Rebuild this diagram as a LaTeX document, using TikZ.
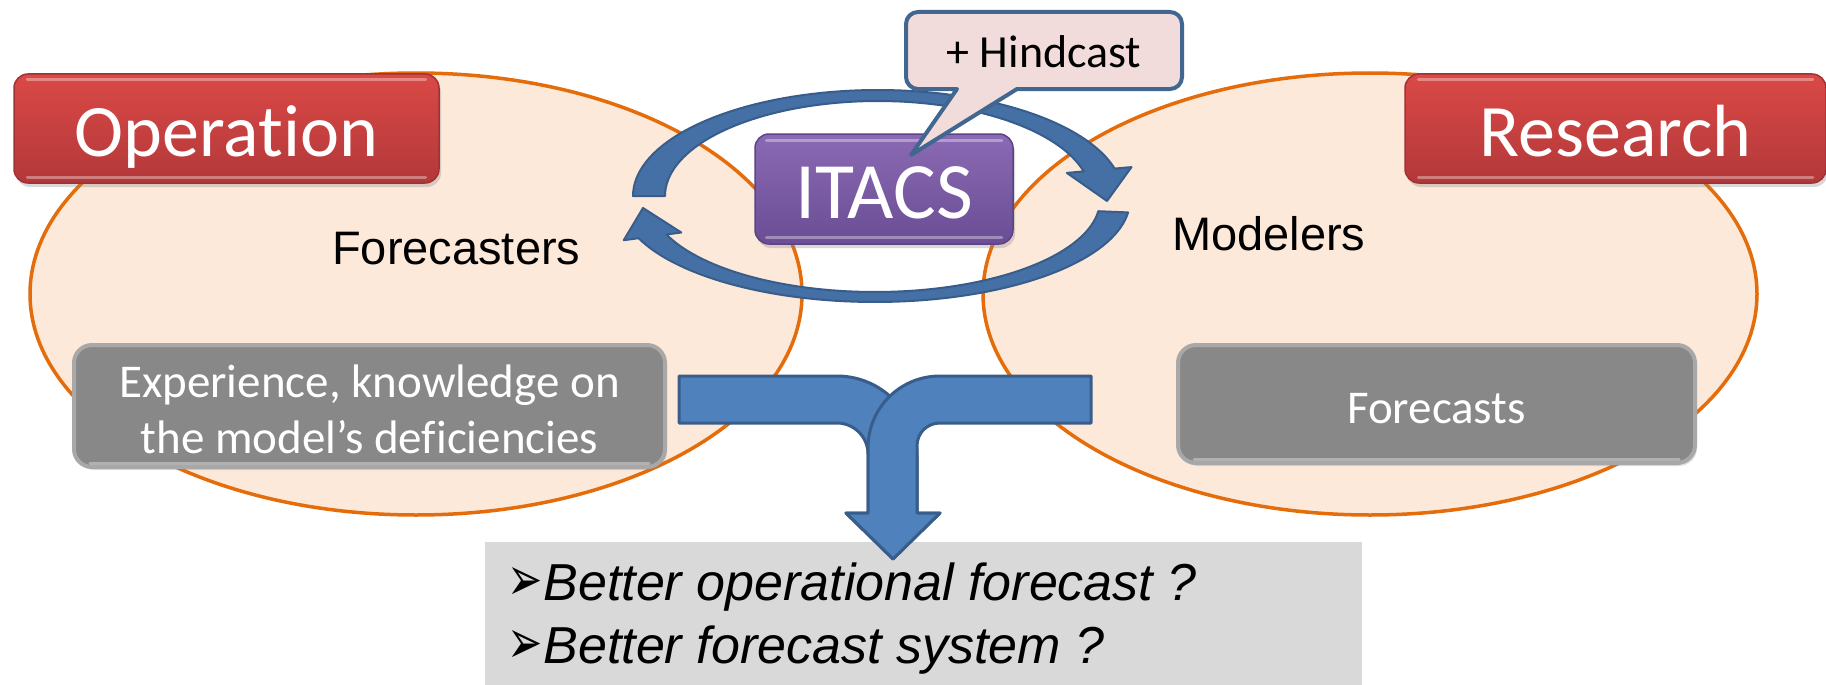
\documentclass[tikz,border=0pt]{standalone}
\usepackage{fontspec}
\usepackage{graphicx}
\setmainfont[Ligatures=NoCommon]{Carlito}
\newfontfamily\arialf{Liberation Sans}
\newfontfamily\dejavuf{DejaVu Sans}
\usetikzlibrary{shadows}
\definecolor{peach}{HTML}{FDE9D9}
\definecolor{orangeline}{HTML}{E46C0A}
\definecolor{redtop}{HTML}{DA4946}
\definecolor{redbot}{HTML}{B3383A}
\definecolor{redborder}{HTML}{A03234}
\definecolor{purtop}{HTML}{8A6AB4}
\definecolor{purbot}{HTML}{6A4D94}
\definecolor{purborder}{HTML}{5C4484}
\definecolor{grayfill}{HTML}{888888}
\definecolor{grayborder}{HTML}{A8A8A8}
\definecolor{tblue}{HTML}{4F81BD}
\definecolor{tbluedark}{HTML}{385D8A}
\definecolor{loopblue}{HTML}{4470A6}
\definecolor{callfill}{HTML}{F2DCDB}
\definecolor{callborder}{HTML}{41668F}
\definecolor{outgray}{HTML}{D9D9D9}
\newcommand{\bulletarrow}{{\dejavuf\upshape\fontsize{62pt}{62pt}\selectfont\scalebox{0.68}[1]{➢}}}
\begin{document}
\begin{tikzpicture}[x=1pt,y=-1pt,
  ellip/.style={fill=peach, draw=orangeline, line width=3.5pt},
  redbox/.style={rounded corners=14pt, draw=redborder, line width=1.5pt,
    top color=redtop, bottom color=redbot, text=white,
    font=\fontsize{74pt}{80pt}\selectfont, minimum width=425pt, minimum height=109pt,
    inner sep=0pt, text height=55pt, text depth=0pt,
    drop shadow={shadow xshift=2pt, shadow yshift=-4pt, opacity=0.3}},
  purbox/.style={rounded corners=14pt, draw=purborder, line width=1.5pt,
    top color=purtop, bottom color=purbot, text=white,
    font=\fontsize{80pt}{86pt}\selectfont, minimum width=258pt, minimum height=110pt,
    inner sep=0pt, text height=58pt, text depth=0pt,
    drop shadow={shadow xshift=2pt, shadow yshift=-4pt, opacity=0.3}},
  graybox/.style={rounded corners=18pt, draw=grayborder, line width=4pt,
    fill=grayfill, text=white, font=\fontsize{47pt}{56pt}\selectfont, inner sep=0pt,
    drop shadow={shadow xshift=2pt, shadow yshift=-3pt, opacity=0.25}},
  gloss/.style={line width=3pt, opacity=0.35, line cap=round},
  loopar/.style={fill=loopblue, draw=tbluedark, line width=2pt, line join=round},
  tarrow/.style={fill=tblue, draw=tbluedark, line width=3pt, line join=round},
  plain/.style={font=\arialf\fontsize{47pt}{56pt}\selectfont, inner sep=0pt},
]
\useasboundingbox (0,0) rectangle (1826,685);
\fill[white] (0,0) rectangle (1826,685);

% the two ellipses
\draw[ellip] (416,294) ellipse [x radius=386pt, y radius=221pt];
\draw[ellip] (1370,294) ellipse [x radius=387pt, y radius=221pt];

% circular arrows around ITACS
\draw[loopar]
  plot[domain=180:345, samples=70] ({878+245*cos(\x)},{196+106*sin(\x)})
  -- (1131.5,167.1) -- (1107,201) -- (1066.8,172.9) -- (1083.7,171.4)
  -- plot[domain=345:180, samples=70] ({878+213*cos(\x)},{196+95*sin(\x)})
  -- cycle;
\draw[loopar]
  plot[domain=7:158, samples=70] ({875+255*cos(\x)},{200+102*sin(\x)})
  -- (623.7,240.2) -- (643,208) -- (681.3,232.5) -- (666.4,234.5)
  -- plot[domain=158:7, samples=70] ({875+225*cos(\x)},{200+92*sin(\x)})
  -- cycle;

% ITACS
\node[purbox] (itacs) at (884,189) {ITACS};
\draw[gloss, white] ([xshift=12pt,yshift=-7pt]itacs.north west) -- ([xshift=-12pt,yshift=-7pt]itacs.north east);
\draw[gloss, white] ([xshift=12pt,yshift=7pt]itacs.south west) -- ([xshift=-12pt,yshift=7pt]itacs.south east);

% callout
\draw[fill=callfill, draw=callborder, line width=4pt, line join=round]
  (957,89) -- (918,89) arc[start angle=270, end angle=180, radius=12pt]
  -- (906,24) arc[start angle=180, end angle=90, radius=12pt]
  -- (1170,12) arc[start angle=90, end angle=0, radius=12pt]
  -- (1182,77) arc[start angle=0, end angle=-90, radius=12pt]
  -- (1017,89) -- (911,155) -- cycle;
\node[font=\fontsize{46pt}{50pt}\selectfont, anchor=base, inner sep=0pt] (hind) at (1044,67) {+ Hindcast};

% red title boxes
\node[redbox] (op) at (226.5,128.5) {Operation};
\draw[gloss, white] ([xshift=14pt,yshift=6pt]op.south west) -- ([xshift=-14pt,yshift=6pt]op.south east);
\draw[gloss, white] ([xshift=14pt,yshift=-6pt]op.north west) -- ([xshift=-14pt,yshift=-6pt]op.north east);
\node[redbox, minimum width=421pt] (res) at (1615.5,128.5) {Research};
\draw[gloss, white] ([xshift=14pt,yshift=6pt]res.south west) -- ([xshift=-14pt,yshift=6pt]res.south east);
\draw[gloss, white] ([xshift=14pt,yshift=-6pt]res.north west) -- ([xshift=-14pt,yshift=-6pt]res.north east);

% plain labels
\node[plain, anchor=base west] (fc) at (332,264) {Forecasters};
\node[plain, anchor=base west] (md) at (1172,250) {Modelers};

% gray boxes
\node[graybox, minimum width=591pt, minimum height=122pt, text height=94pt, text depth=0pt] (exp) at (369.5,406)
  {\vbox{\halign{\hfil#\hfil\cr Experience, knowledge on\cr the model’s deficiencies\cr}}};
\draw[gloss, white] ([xshift=18pt,yshift=6pt]exp.south west) -- ([xshift=-18pt,yshift=6pt]exp.south east);
\node[graybox, minimum width=517pt, minimum height=118pt, text height=38pt, text depth=0pt] (fcs) at (1436.5,404) {Forecasts};
\draw[gloss, white] ([xshift=18pt,yshift=6pt]fcs.south west) -- ([xshift=-18pt,yshift=6pt]fcs.south east);

% bottom box
\node[fill=outgray, minimum width=877pt, minimum height=143pt, inner sep=0pt] (outbox) at (923.5,613.5) {};
\node[anchor=base west, inner sep=0pt, font=\arialf\itshape\fontsize{52pt}{63pt}\selectfont] (outtext) at (507,663)
  {\vbox{\halign{#\hfil\cr \bulletarrow\kern1pt Better operational forecast ?\cr
   \bulletarrow\kern1pt Better forecast system ?\cr}}};

% merging arrow
\draw[tarrow] (679,376) -- (837,376) .. controls (881,376) and (917,412) .. (917,456)
  -- (917,513) -- (940,513) -- (893,559) -- (846,513) -- (868,513) -- (868,454)
  .. controls (868,437) and (854,423) .. (837,423) -- (679,423) -- cycle;
\draw[tarrow] (1091,376) -- (940,376) .. controls (900,376) and (868,408) .. (868,448)
  -- (868,513) -- (846,513) -- (893,559) -- (940,513) -- (917,513) -- (917,446)
  .. controls (917,433) and (927,423) .. (940,423) -- (1091,423) -- cycle;
\end{tikzpicture}
\end{document}
